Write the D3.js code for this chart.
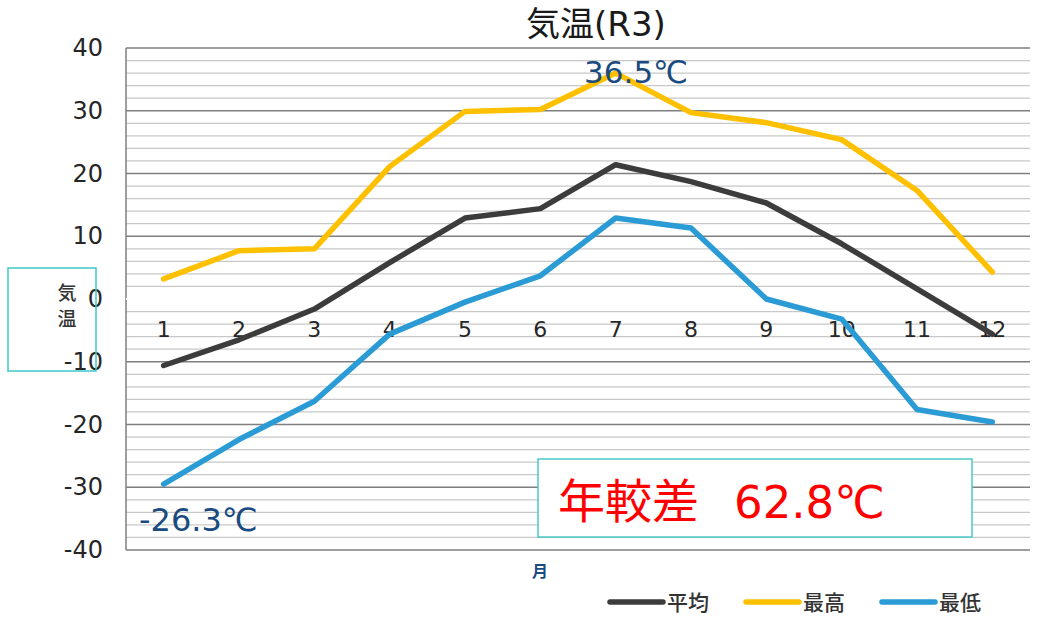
<!DOCTYPE html>
<html>
<head>
<meta charset="utf-8">
<script src="https://cdn.jsdelivr.net/npm/d3@7"></script>
<style>
  body { margin: 0; background: #fff; }
</style>
</head>
<body>
<div id="chart"></div>
<script>
var months = ['1','2','3','4','5','6','7','8','9','10','11','12'];
var avgTemp = [-10.6, -6.5, -1.6, 5.8, 12.9, 14.4, 21.4, 18.7, 15.3, 8.8, 1.6, -5.6];
var maxTemp = [3.2, 7.7, 8.0, 21.1, 29.9, 30.2, 36.0, 29.7, 28.1, 25.4, 17.3, 4.3];
var minTemp = [-29.5, -22.4, -16.3, -5.6, -0.5, 3.7, 12.9, 11.3, 0.0, -3.2, -17.6, -19.6];
var yTicks = [40, 30, 20, 10, 0, -10, -20, -30, -40];
var seriesNames = ['平均', '最高', '最低'];
var seriesColors = ['#3c3c3c', '#ffc000', '#2a9bd5'];

var NUM_FONT = '"DejaVu Sans", "Noto Sans CJK JP", sans-serif';
var JP_FONT = '"Noto Sans CJK JP", sans-serif';

var width = 1038, height = 620;
var margin = {top: 48, right: 8, bottom: 70, left: 126};
var plotW = width - margin.left - margin.right;
var plotH = height - margin.top - margin.bottom;

var svg = d3.select('#chart').append('svg')
            .attr('width', width)
            .attr('height', height);

var x = d3.scaleBand().domain(months).range([0, plotW]);
var y = d3.scaleLinear().domain([-40, 40]).range([plotH, 0]);

var g = svg.append('g')
           .attr('transform', 'translate(' + margin.left + ',' + margin.top + ')');

// minor gridlines every 2 degrees
g.append('g').selectAll('line')
 .data(d3.range(-38, 40, 2).filter(function(v) { return v % 10 !== 0; }))
 .enter().append('line')
   .attr('x1', 0).attr('x2', plotW)
   .attr('y1', function(d) { return y(d); })
   .attr('y2', function(d) { return y(d); })
   .attr('stroke', '#c8c8c8').attr('stroke-width', 1.3);

// major gridlines
g.append('g').selectAll('line')
 .data(yTicks.filter(function(v) { return v !== 0; }))
 .enter().append('line')
   .attr('x1', 0).attr('x2', plotW)
   .attr('y1', function(d) { return y(d); })
   .attr('y2', function(d) { return y(d); })
   .attr('stroke', '#7f7f7f').attr('stroke-width', 1.3);

// left axis line
g.append('line')
 .attr('x1', 0).attr('x2', 0).attr('y1', 0).attr('y2', plotH)
 .attr('stroke', '#7f7f7f').attr('stroke-width', 1.5);

// zero axis line (white)
g.append('line')
 .attr('x1', 0).attr('x2', plotW).attr('y1', y(0)).attr('y2', y(0))
 .attr('stroke', '#ffffff').attr('stroke-width', 2);

// y tick labels
var yAxis = d3.axisLeft(y).tickValues(yTicks).tickSize(0).tickPadding(23)
              .tickFormat(function(d) { return String(d); });
var yG = g.append('g').call(yAxis);
yG.select('.domain').remove();
yG.selectAll('text').style('font-family', NUM_FONT).style('font-size', '24px')
  .attr('fill', '#262626');

// x tick labels near the zero line
var xAxis = d3.axisBottom(x).tickSize(0).tickPadding(22);
var xG = g.append('g').attr('transform', 'translate(0,' + y(0) + ')').call(xAxis);
xG.select('.domain').remove();
xG.selectAll('text').style('font-family', NUM_FONT).style('font-size', '22px')
  .attr('fill', '#262626');

// lines
var line = d3.line()
  .x(function(d, i) { return x(months[i]) + x.bandwidth() / 2; })
  .y(function(d) { return y(d); });

[avgTemp, maxTemp, minTemp].forEach(function(s, i) {
  g.append('path')
   .datum(s)
   .attr('d', line)
   .attr('fill', 'none')
   .attr('stroke', seriesColors[i])
   .attr('stroke-width', 5.5)
   .attr('stroke-linecap', 'round')
   .attr('stroke-linejoin', 'round');
});

// data annotations
svg.append('text')
   .attr('x', 636).attr('y', 83)
   .attr('text-anchor', 'middle')
   .style('font-family', NUM_FONT).style('font-size', '31px')
   .attr('fill', '#1a4b80')
   .text('36.5℃');

svg.append('text')
   .attr('x', 139).attr('y', 531)
   .style('font-family', NUM_FONT).style('font-size', '32px')
   .attr('fill', '#1a4b80')
   .text('-26.3℃');

// range box
svg.append('rect')
   .attr('x', 538).attr('y', 459).attr('width', 434).attr('height', 78)
   .attr('fill', '#fff').attr('stroke', '#4cc8c8').attr('stroke-width', 1.5);
svg.append('text')
   .attr('x', 558).attr('y', 518)
   .style('font-family', JP_FONT).style('font-size', '47px')
   .attr('fill', '#ff0000')
   .text('年較差');
svg.append('text')
   .attr('x', 734).attr('y', 518)
   .style('font-family', NUM_FONT).style('font-size', '45px')
   .attr('fill', '#ff0000')
   .text('62.8℃');

// title
var title = svg.append('text')
   .attr('x', 596).attr('y', 36)
   .attr('text-anchor', 'middle')
   .attr('fill', '#1a1a1a');
title.append('tspan')
   .style('font-family', JP_FONT).style('font-size', '34px')
   .text('気温');
title.append('tspan')
   .style('font-family', NUM_FONT).style('font-size', '34px')
   .text('(R3)');

// y axis title box
svg.append('rect')
   .attr('x', 8).attr('y', 268).attr('width', 88).attr('height', 103)
   .attr('fill', 'none').attr('stroke', '#3cc8c8').attr('stroke-width', 1.5);
svg.append('text')
   .attr('x', 67).attr('y', 300).attr('text-anchor', 'middle')
   .style('font-family', JP_FONT).style('font-size', '19px').style('font-weight', '500')
   .attr('fill', '#333')
   .text('気');
svg.append('text')
   .attr('x', 67).attr('y', 326).attr('text-anchor', 'middle')
   .style('font-family', JP_FONT).style('font-size', '19px').style('font-weight', '500')
   .attr('fill', '#333')
   .text('温');

// x axis title
svg.append('text')
   .attr('x', 540).attr('y', 577).attr('text-anchor', 'middle')
   .style('font-family', JP_FONT).style('font-size', '16px').style('font-weight', 'bold')
   .attr('fill', '#1a4b80')
   .text('月');

// legend
var legendX = [610, 746, 882];
var legend = svg.append('g').selectAll('g')
  .data(seriesNames)
  .enter().append('g')
    .attr('transform', function(d, i) { return 'translate(' + legendX[i] + ',602)'; });
legend.append('line')
  .attr('x1', 0).attr('x2', 53).attr('y1', 0).attr('y2', 0)
  .attr('stroke', function(d, i) { return seriesColors[i]; })
  .attr('stroke-width', 5.5).attr('stroke-linecap', 'round');
legend.append('text')
  .attr('x', 57).attr('y', 8)
  .style('font-family', JP_FONT).style('font-size', '21px').style('font-weight', '500')
  .attr('fill', '#333')
  .text(function(d) { return d; });
</script>
</body>
</html>
